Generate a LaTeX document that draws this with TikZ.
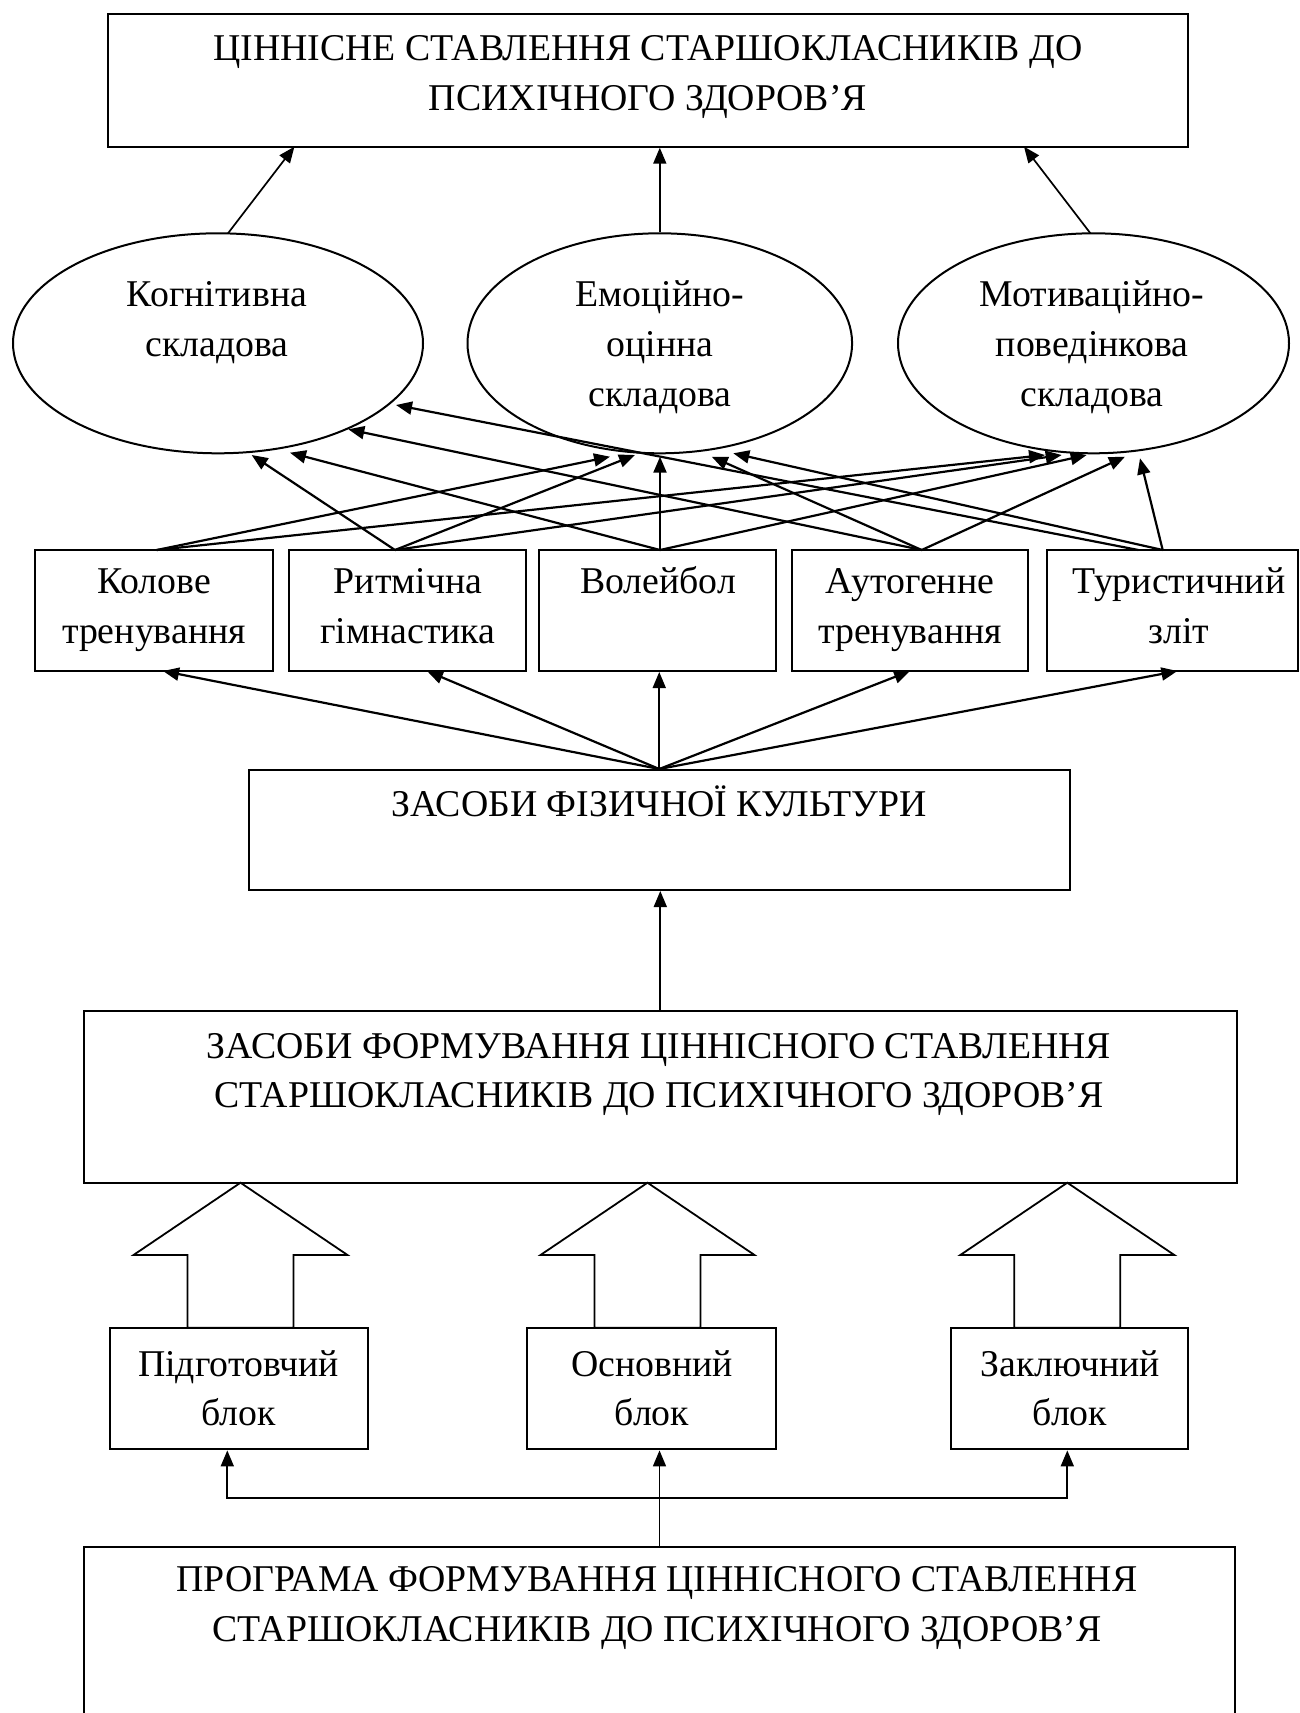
\documentclass[tikz,border=0pt]{standalone}
\usepackage{fontspec}
\setmainfont{Liberation Serif}
\usetikzlibrary{arrows.meta,shapes.geometric}
\begin{document}
\begin{tikzpicture}[x=0.5pt,y=-0.5pt,
  box/.style={draw,line width=1pt,rectangle,inner sep=0pt},
  ell/.style={draw,line width=1pt,ellipse,inner sep=0pt},
  ln/.style={inner sep=0pt,anchor=base,font=\fontsize{18.9}{25}\selectfont},
  con/.style={line width=0.85pt,-{Triangle[length=8pt,width=6.5pt]}},
  dcon/.style={line width=1.1pt,-{Triangle[length=8pt,width=6.5pt]}},
  con2/.style={line width=0.9pt,{Triangle[length=8pt,width=6.5pt]}-{Triangle[length=8pt,width=6.5pt]}},
  blk/.style={draw,line width=0.9pt,fill=white,line join=miter}]
\useasboundingbox (0,0) rectangle (1300,1713);
\clip (0,0) rectangle (1300,1713);

% top box
\node[box,minimum width=539.9pt,minimum height=66.35pt] (top) at (647.75,80.35) {};
\node[ln] (top1) at (648,60) {ЦІННІСНЕ СТАВЛЕННЯ СТАРШОКЛАСНИКІВ ДО};
\node[ln] (top2) at (648,110) {ПСИХІЧНОГО ЗДОРОВ’Я};

% ellipses
\node[ell,minimum width=205pt,minimum height=110pt] (e1) at (218,343.3) {};
\node[ell,minimum width=192.3pt,minimum height=110pt] (e2) at (659.8,343.3) {};
\node[ell,minimum width=195.5pt,minimum height=110pt] (e3) at (1093.5,343.3) {};
\node[ln] (e1a) at (217,306.7) {Когнітивна};
\node[ln] (e1b) at (217,356.7) {складова};
\node[ln] (e2a) at (660,306.7) {Емоційно-};
\node[ln] (e2b) at (660,356.7) {оцінна};
\node[ln] (e2c) at (660,406.7) {складова};
\node[ln] (e3a) at (1092,306.7) {Мотиваційно-};
\node[ln] (e3b) at (1092,356.7) {поведінкова};
\node[ln] (e3c) at (1092,406.7) {складова};

% arrows ellipses -> top
\coordinate (a1s) at (228,233.3);
\coordinate (a1e) at (294.4,146.7);
\coordinate (a3s) at (1090.4,233.3);
\coordinate (a3e) at (1024,146.7);
\draw[con] (a1s) -- (a1e);
\draw[con] (e2.north) -- (e2.north |- top.south);
\draw[con] (a3s) -- (a3e);

% small boxes
\node[box,minimum width=118.7pt,minimum height=60.5pt] (b1) at (153.9,610.5) {};
\node[box,minimum width=118.35pt,minimum height=60.5pt] (b2) at (407.65,610.5) {};
\node[box,minimum width=118.35pt,minimum height=60.5pt] (b3) at (657.65,610.5) {};
\node[box,minimum width=118.15pt,minimum height=60.5pt] (b4) at (909.85,610.5) {};
\node[box,minimum width=125.35pt,minimum height=60.5pt] (b5) at (1172.65,610.5) {};
\node[ln] (b1a) at (154,593) {Колове};
\node[ln] (b1b) at (154,643) {тренування};
\node[ln] (b2a) at (408,593) {Ритмічна};
\node[ln] (b2b) at (408,643) {гімнастика};
\node[ln] (b3a) at (658,593) {Волейбол};
\node[ln] (b4a) at (910,593) {Аутогенне};
\node[ln] (b4b) at (910,643) {тренування};
\node[ln] (b5a) at (1179,593) {Туристичний};
\node[ln] (b5b) at (1179,643) {зліт};

% sources and tips
\coordinate (s1) at (156.7,550);
\coordinate (s2) at (395,550);
\coordinate (s3) at (660,550);
\coordinate (s4) at (921.7,550);
\coordinate (s5a) at (1162.7,550);
\coordinate (s5b) at (1138.3,550);
\coordinate (tl2) at (251.7,455);
\coordinate (tl3) at (290,452.7);
\coordinate (tl4) at (348.3,429.3);
\coordinate (tl5) at (396,405);
\coordinate (tm1) at (610,456.7);
\coordinate (tm2) at (635,455);
\coordinate (tm3) at (660,456.7);
\coordinate (tm4) at (711.7,456.7);
\coordinate (tm5) at (733.3,453.3);
\coordinate (tr1) at (1045,455);
\coordinate (tr2) at (1061.7,455);
\coordinate (tr3) at (1086.7,455);
\coordinate (tr4) at (1125,456.7);
\coordinate (tr5) at (1140,458.3);
\draw[dcon] (s1) -- (tm1);
\draw[dcon] (s1) -- (tr1);
\draw[dcon] (s2) -- (tl2);
\draw[dcon] (s2) -- (tm2);
\draw[dcon] (s2) -- (tr2);
\draw[dcon] (s3) -- (tl3);
\draw[dcon] (s3) -- (tm3);
\draw[dcon] (s3) -- (tr3);
\draw[dcon] (s4) -- (tl4);
\draw[dcon] (s4) -- (tm4);
\draw[dcon] (s4) -- (tr4);
\draw[dcon] (s5b) -- (tl5);
\draw[dcon] (s5a) -- (tm5);
\draw[dcon] (s5a) -- (tr5);

% physical culture box
\node[box,minimum width=410.45pt,minimum height=60pt] (fk) at (659.25,830) {};
\node[ln] (fkt) at (659,816) {ЗАСОБИ ФІЗИЧНОЇ КУЛЬТУРИ};
\coordinate (u1) at (163,671);
\coordinate (u2) at (427,671);
\coordinate (u4) at (910,671);
\coordinate (u5) at (1177.4,671);
\draw[dcon] (fk.north) -- (u1);
\draw[dcon] (fk.north) -- (u2);
\draw[con] (fk.north) -- (fk.north |- b3.south);
\draw[dcon] (fk.north) -- (u4);
\draw[dcon] (fk.north) -- (u5);

% means box
\node[box,minimum width=576.3pt,minimum height=86.1pt] (zf) at (660.3,1096.6) {};
\node[ln] (zf1) at (659,1058) {ЗАСОБИ ФОРМУВАННЯ ЦІННІСНОГО СТАВЛЕННЯ};
\node[ln] (zf2) at (659,1107) {СТАРШОКЛАСНИКІВ ДО ПСИХІЧНОГО ЗДОРОВ’Я};
\draw[con] (zf.north) -- (zf.north |- fk.south);

% block arrows
\draw[blk] (240.5,1182.7) -- (347.5,1255) -- (293.5,1255) -- (293.5,1327.7) -- (187.5,1327.7) -- (187.5,1255) -- (133.5,1255) -- cycle;
\draw[blk] (647.5,1182.7) -- (754.5,1255) -- (700.5,1255) -- (700.5,1327.7) -- (594.5,1327.7) -- (594.5,1255) -- (540.5,1255) -- cycle;
\draw[blk] (1067.3,1182.7) -- (1174.3,1255) -- (1120.3,1255) -- (1120.3,1327.7) -- (1014.3,1327.7) -- (1014.3,1255) -- (960.3,1255) -- cycle;

% block boxes
\node[box,minimum width=129pt,minimum height=60.85pt] (pb) at (238.5,1388.55) {};
\node[box,minimum width=124.65pt,minimum height=60.85pt] (ob) at (651.35,1388.55) {};
\node[box,minimum width=118.2pt,minimum height=60.85pt] (zb) at (1069.6,1388.55) {};
\node[ln] (pb1) at (238.5,1376) {Підготовчий};
\node[ln] (pb2) at (238.5,1425) {блок};
\node[ln] (ob1) at (652,1376) {Основний};
\node[ln] (ob2) at (652,1425) {блок};
\node[ln] (zb1) at (1070,1376) {Заключний};
\node[ln] (zb2) at (1070,1425) {блок};

% program box
\node[box,minimum width=575.5pt,minimum height=91.35pt] (pg) at (659.5,1638.65) {};
\node[ln] (pg1) at (657,1591.7) {ПРОГРАМА ФОРМУВАННЯ ЦІННІСНОГО СТАВЛЕННЯ};
\node[ln] (pg2) at (657,1641.7) {СТАРШОКЛАСНИКІВ ДО ПСИХІЧНОГО ЗДОРОВ’Я};

\coordinate (jl) at (227.3,1498.3);
\coordinate (jr) at (1067.3,1498.3);
\draw[con] (pg.north) -- (pg.north |- ob.south);
\draw[con2] (jl |- pb.south) -- (jl) -- (jr) -- (jr |- zb.south);
\end{tikzpicture}
\end{document}
